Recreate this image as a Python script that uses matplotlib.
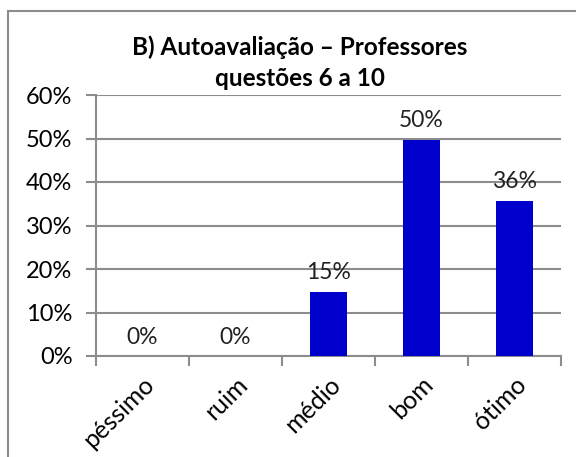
import matplotlib.pyplot as plt
from matplotlib.patches import Rectangle

categories = ["péssimo", "ruim", "médio", "bom", "ótimo"]
values = [0.0, 0.0, 0.148, 0.497, 0.357]
labels = ["0%", "0%", "15%", "50%", "36%"]
yticks = [0.0, 0.1, 0.2, 0.3, 0.4, 0.5, 0.6]

plt.rcParams["font.family"] = ["Lato", "DejaVu Sans"]

W, H = 576, 457
fig = plt.figure(figsize=(W / 100, H / 100), dpi=100)
ax = fig.add_axes([96 / W, 1 - 356 / H, (561 - 96) / W, (356 - 95) / H])

# chart border (left and top visible, rest runs off the picture)
fig.patches.append(Rectangle((8 / W, -0.1), 1.2, 1.1 - 11 / H, transform=fig.transFigure,
                             fill=False, edgecolor="#8c8c8c", linewidth=1.5))

grid_col = "#8c8c8c"
x = range(len(categories))
ax.bar(x, values, width=0.4, color="#0000cc", zorder=3)
for xi, v, lab in zip(x, values, labels):
    ax.annotate(lab, (xi, v), xytext=(0, 6), textcoords="offset points",
                ha="center", va="bottom", fontsize=16.5, color="#222222")

ax.set_xlim(-0.5, len(categories) - 0.5)
ax.set_ylim(0, 0.6)
ax.set_yticks(yticks)
ax.set_yticklabels([f"{int(round(t * 100))}%" for t in yticks], fontsize=17)
ax.yaxis.grid(True, color=grid_col, linewidth=1.5, zorder=0)
ax.set_axisbelow(True)

ax.set_xticks([i - 0.5 for i in range(len(categories) + 1)], minor=False)
ax.set_xticklabels([])
ax.set_xticks(list(x), minor=True)
ax.set_xticklabels(categories, minor=True, rotation=45, ha="right", va="top",
                   rotation_mode="anchor", fontsize=18)
ax.tick_params(axis="x", which="minor", length=0, pad=12)
ax.tick_params(axis="x", which="major", length=7, width=1.5, color=grid_col)
ax.tick_params(axis="y", length=7, width=1.5, color=grid_col, pad=10)

for side in ["top", "right"]:
    ax.spines[side].set_visible(False)
for side in ["left", "bottom"]:
    ax.spines[side].set_color(grid_col)
    ax.spines[side].set_linewidth(1.5)

fig.text(300 / W, 1 - 47 / H, "B) Autoavaliação – Professores", ha="center", va="center",
         fontsize=17.5, fontweight="bold")
fig.text(300 / W, 1 - 79 / H, "questões 6 a 10", ha="center", va="center",
         fontsize=17.5, fontweight="bold")

fig.savefig("out.png", dpi=100)
